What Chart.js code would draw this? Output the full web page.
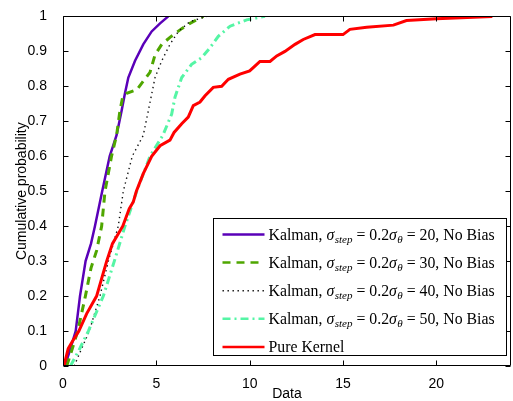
<!DOCTYPE html>
<html><head><meta charset="utf-8">
<script src="https://cdn.jsdelivr.net/npm/chart.js@4"></script>
<style>html,body{margin:0;padding:0;background:#fff;}#c{display:block}</style>
</head><body>
<canvas id="c" width="513" height="401"></canvas>
<script>
// ---- data ----
const LABELS = [
  'Kalman, σ_{step} = 0.2σ_{θ} = 20, No Bias',
  'Kalman, σ_{step} = 0.2σ_{θ} = 30, No Bias',
  'Kalman, σ_{step} = 0.2σ_{θ} = 40, No Bias',
  'Kalman, σ_{step} = 0.2σ_{θ} = 50, No Bias',
  'Pure Kernel'
];
const K20_X = [0.1,0.4,0.68,0.91,1.21,1.5,1.71,2.1,2.5,2.87,3.14,3.32,3.5,3.86,4.3,4.75,5.2,5.64];
const K20_Y = [0,0.05,0.1,0.2,0.3,0.35,0.4,0.5,0.6,0.66,0.73,0.78,0.825,0.873,0.92,0.957,0.98,1.0];
const K30_X = [0.2,0.5,0.79,1.2,1.5,1.8,2.07,2.25,2.6,2.87,3.05,3.2,3.41,3.95,4.66,4.93,5.29,5.73,6.36,6.8,7.52];
const K30_Y = [0,0.05,0.1,0.2,0.28,0.33,0.4,0.5,0.6,0.66,0.73,0.77,0.78,0.79,0.84,0.89,0.92,0.94,0.965,0.98,1.0];
const K40_X = [0.6,1.0,1.41,1.98,2.43,2.96,3.23,3.71,4.3,4.57,4.93,5.29,5.73,6.18,6.8,7.7];
const K40_Y = [0,0.05,0.1,0.2,0.3,0.4,0.5,0.6,0.66,0.73,0.825,0.873,0.92,0.957,0.985,1.0];
const K50_X = [0.4,0.9,1.36,2.16,2.75,3.32,3.95,4.66,5.35,5.82,6.0,6.18,6.36,6.89,7.43,7.87,8.32,8.95,9.84,10.82];
const K50_Y = [0,0.05,0.1,0.2,0.3,0.4,0.5,0.6,0.66,0.72,0.769,0.797,0.825,0.863,0.882,0.91,0.943,0.972,0.99,1.0];
const KER_X = [0.05,0.28,0.5,0.85,1.27,1.8,2.07,2.34,2.65,3.2,3.55,3.77,3.93,4.3,4.75,5.2,5.73,5.95,6.36,6.71,6.98,7.34,7.61,8.05,8.5,8.86,9.48,10.0,10.28,10.55,11.09,11.45,11.89,12.43,12.87,13.5,15.0,15.37,16.27,17.7,18.4,20.0,23.0];
const KER_Y = [0,0.05,0.07,0.1,0.15,0.2,0.25,0.3,0.35,0.4,0.45,0.47,0.5,0.55,0.6,0.63,0.646,0.668,0.693,0.712,0.745,0.755,0.773,0.797,0.80,0.82,0.835,0.844,0.858,0.871,0.871,0.887,0.90,0.92,0.934,0.948,0.948,0.963,0.969,0.975,0.988,0.993,1.0];
const X_TICKS = [0,5,10,15,20];
const Y_TICKS = [0,0.1,0.2,0.3,0.4,0.5,0.6,0.7,0.8,0.9,1];

// ---- styles ----
const COLORS = ['#5a00b8','#4fa600','#111111','#55f5a5','#ff0000'];
const WIDTHS = [2.5,3,1.4,3,3];
const DASHES = [[],[8,6],[1.4,3.6],[8,4,2,4],[]];

const SERIES = [[K20_X,K20_Y],[K30_X,K30_Y],[K40_X,K40_Y],[K50_X,K50_Y],[KER_X,KER_Y]];
const datasets = SERIES.map((s,i)=>({
  label: LABELS[i],
  data: s[0].map((x,j)=>({x:x,y:s[1][j]})),
  borderColor: COLORS[i],
  backgroundColor: COLORS[i],
  borderWidth: WIDTHS[i],
  borderDash: DASHES[i],
  pointRadius: 0,
  tension: 0,
  fill: false,
  order: 5-i
}));

const SERIF = '"Liberation Serif", "Times New Roman", serif';
function drawRich(ctx, str, x, y, size){
  const re = /_\{([^}]*)\}|([σθ])|([^_σθ]+)/g;
  let m;
  ctx.textBaseline = 'alphabetic';
  ctx.textAlign = 'left';
  while((m = re.exec(str))){
    if(m[1] !== undefined){
      ctx.font = 'italic ' + (size*0.7) + 'px ' + SERIF;
      ctx.fillText(m[1], x, y + size*0.22);
      x += ctx.measureText(m[1]).width;
    } else if(m[2]){
      ctx.font = 'italic ' + size + 'px ' + SERIF;
      ctx.fillText(m[2], x, y);
      x += ctx.measureText(m[2]).width + 0.5;
    } else {
      ctx.font = size + 'px ' + SERIF;
      ctx.fillText(m[3], x, y);
      x += ctx.measureText(m[3]).width;
    }
  }
}

const framePlugin = {
  id: 'frame',
  afterDatasetsDraw(chart){
    const ctx = chart.ctx, a = chart.chartArea;
    const xs = chart.scales.x, ys = chart.scales.y;
    ctx.save();
    ctx.strokeStyle = '#000';
    ctx.lineWidth = 1;
    ctx.setLineDash([]);
    ctx.beginPath();
    const L = Math.round(a.left)+0.5, R = Math.round(a.right)-0.5, T = Math.round(a.top)+0.5, B = Math.round(a.bottom)-0.5;
    ctx.rect(L, T, R-L, B-T);
    const tl = 5;
    X_TICKS.forEach(v=>{
      const px = Math.round(xs.getPixelForValue(v))+0.5;
      ctx.moveTo(px,B); ctx.lineTo(px,B-tl);
      ctx.moveTo(px,T); ctx.lineTo(px,T+tl);
    });
    Y_TICKS.forEach(v=>{
      const py = Math.round(ys.getPixelForValue(v))+0.5;
      ctx.moveTo(L,py); ctx.lineTo(L+tl,py);
      ctx.moveTo(R,py); ctx.lineTo(R-tl,py);
    });
    ctx.stroke();

    // legend
    const bl = Math.round(a.left+150)+0.5, bt = Math.round(a.top+202)+0.5;
    const br = Math.round(a.right-5)+0.5, bb = Math.round(a.bottom-11)+0.5;
    ctx.fillStyle = '#fff';
    ctx.fillRect(bl, bt, br-bl, bb-bt);
    chart.data.datasets.forEach((ds,i)=>{
      const ry = bt + 16 + i*28.1;
      ctx.save();
      ctx.strokeStyle = ds.borderColor;
      ctx.lineWidth = Math.min(ds.borderWidth, 2.5);
      ctx.setLineDash(ds.borderDash || []);
      ctx.beginPath();
      ctx.moveTo(bl+9, ry); ctx.lineTo(bl+51, ry);
      ctx.stroke();
      ctx.restore();
      ctx.fillStyle = '#000';
      drawRich(ctx, ds.label, bl+55, ry+5, 15.8);
    });
    ctx.strokeStyle = '#000';
    ctx.lineWidth = 1;
    ctx.setLineDash([]);
    ctx.strokeRect(bl, bt, br-bl, bb-bt);
    ctx.restore();
  }
};

const SANS = '"Liberation Sans", Arial, sans-serif';
new Chart(document.getElementById('c'), {
  type: 'line',
  data: { datasets: datasets },
  options: {
    responsive: false,
    animation: false,
    devicePixelRatio: 1,
    layout: { padding: { top: 13, right: 2, left: 0, bottom: 0 } },
    plugins: { legend: { display: false }, tooltip: { enabled: false } },
    scales: {
      x: {
        type: 'linear', min: 0, max: 24,
        afterBuildTicks: s => { s.ticks = X_TICKS.map(v => ({ value: v })); },
        afterFit: s => { s.height = 35; },
        grid: { display: false }, border: { display: false },
        ticks: { autoSkip: false, maxRotation: 0, padding: 2, color: '#000', font: { family: SANS, size: 14 } },
        title: { display: true, text: 'Data', color: '#000', padding: 0, font: { family: SANS, size: 14, lineHeight: 1 } }
      },
      y: {
        type: 'linear', min: 0, max: 1,
        afterBuildTicks: s => { s.ticks = Y_TICKS.map(v => ({ value: v })); },
        afterFit: s => { s.width = 63; },
        grid: { display: false }, border: { display: false },
        ticks: { autoSkip: false, padding: 8, color: '#000', font: { family: SANS, size: 14 },
          callback: v => String(+Number(v).toFixed(1)) },
        title: { display: true, text: 'Cumulative probability', color: '#000', padding: { top: 14, bottom: 0 }, font: { family: SANS, size: 14, lineHeight: 1.2 } }
      }
    }
  },
  plugins: [framePlugin]
});
</script>
</body></html>
